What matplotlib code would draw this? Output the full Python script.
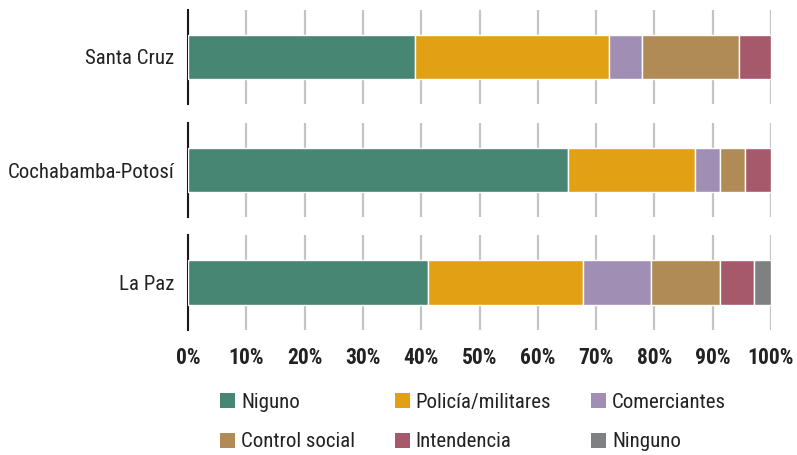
import matplotlib
matplotlib.use('Agg')
import matplotlib.pyplot as plt
from matplotlib import font_manager
from matplotlib.patches import Patch

# pick a narrow font if one is installed
names = set(f.name for f in font_manager.fontManager.ttflist)
font = 'DejaVu Sans'
for cand in ['Roboto Condensed', 'Liberation Sans Narrow', 'Open Sans Condensed', 'DejaVu Sans Condensed']:
    if cand in names:
        font = cand
        break
plt.rcParams['font.family'] = [font, 'DejaVu Sans']

regions = ['Santa Cruz', 'Cochabamba-Potosí', 'La Paz']
series = ['Niguno', 'Policía/militares', 'Comerciantes', 'Control social', 'Intendencia', 'Ninguno']
colors = ['#468672', '#E2A015', '#A08EB4', '#B08B55', '#A5596A', '#7F8082']

santa_cruz = [38.9, 33.3, 5.6, 16.7, 5.5, 0.0]
cochabamba = [65.2, 21.7, 4.3, 4.4, 4.4, 0.0]
la_paz = [41.2, 26.5, 11.8, 11.7, 5.9, 2.9]
values = [santa_cruz, cochabamba, la_paz]

xticks = [0, 10, 20, 30, 40, 50, 60, 70, 80, 90, 100]
xlabels = [f'{t}%' for t in xticks]

W, H = 797, 455
fig = plt.figure(figsize=(W / 100, H / 100), dpi=100)

# each region gets its own small panel (top/bottom in pixels)
panels = [(10, 104), (123, 217), (235, 330)]
axes = []
for (top, bot), name, vals in zip(panels, regions, values):
    ax = fig.add_axes([188 / W, 1 - bot / H, 583 / W, (bot - top) / H])
    left = 0
    for v, c in zip(vals, colors):
        if v > 0:
            ax.barh(0, v, left=left, height=0.47, color=c, edgecolor='white', linewidth=1, zorder=3)
        left += v
    ax.set_xlim(0, 100)
    ax.set_ylim(-0.5, 0.5)
    ax.set_xticks(xticks)
    ax.grid(axis='x', color='#c4c4c4', linewidth=1.6, zorder=0)
    ax.set_yticks([0])
    ax.set_yticklabels([name], fontsize=15, color='#222222')
    ax.tick_params(axis='y', length=0, pad=10)
    ax.tick_params(axis='x', length=0)
    for s in ['top', 'right', 'bottom']:
        ax.spines[s].set_visible(False)
    ax.spines['left'].set_linewidth(1.5)
    ax.spines['left'].set_color('#1a1a1a')
    ax.set_xticklabels([])
    axes.append(ax)

axes[-1].set_xticklabels(xlabels, fontsize=15.5, fontweight='bold', color='#222222')
axes[-1].tick_params(axis='x', pad=12)

# legend, row-major order -> reorder for column filling
handles = [Patch(facecolor=c, edgecolor='none') for c in colors]
order = [0, 3, 1, 4, 2, 5]
fig.legend([handles[i] for i in order], [series[i] for i in order],
           ncol=3, loc='center', bbox_to_anchor=(473 / W, 1 - 422 / H),
           frameon=False, fontsize=15, handlelength=0.72, handleheight=0.72,
           handletextpad=0.3, columnspacing=1.9, labelspacing=1.0, labelcolor='#222222')

fig.savefig('out.png', dpi=100)
